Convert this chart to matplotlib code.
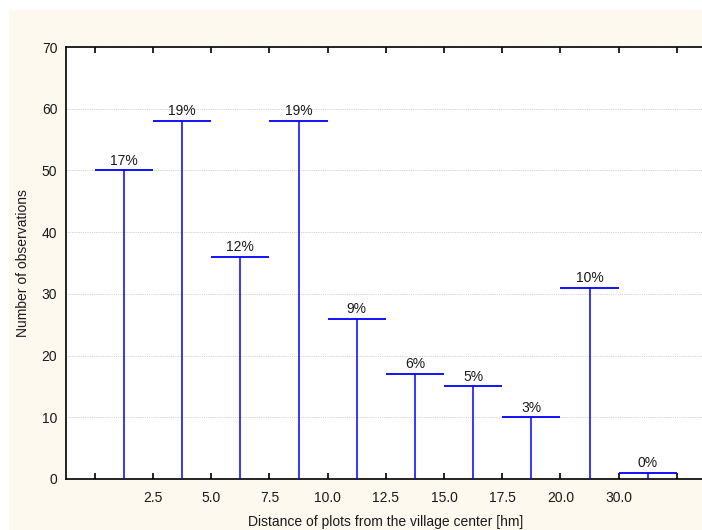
import matplotlib
matplotlib.use("Agg")
import matplotlib.pyplot as plt
from matplotlib.patches import Rectangle

plt.rcParams['font.family'] = ['Liberation Sans', 'DejaVu Sans']

categories = list(range(10))
counts = [50, 58, 36, 58, 26, 17, 15, 10, 31, 1]
tick_labels = ["", "2.5", "5.0", "7.5", "10.0", "12.5", "15.0", "17.5", "20.0", "30.0", ""]
total = sum(counts)
pct_labels = [f"{round(100 * c / total):d}%" for c in counts]

W, H = 702, 530
fig = plt.figure(figsize=(W / 100, H / 100), dpi=100, facecolor="white")
bg = Rectangle((9 / W, 0), 1, (H - 10) / H, transform=fig.transFigure,
               facecolor="#fdf9ef", edgecolor="none", zorder=-10)
fig.add_artist(bg)

ax = fig.add_axes([65.7 / W, 51 / H, 640.3 / W, 432 / H])
ax.set_zorder(1)
ax.set_facecolor("white")
ax.set_xlim(-1.0, 10.0)
ax.set_ylim(0, 70)

blue = "#0000ff"
for x, c, p in zip(categories, counts, pct_labels):
    ax.vlines(x, 0, c, color=blue, lw=1.1, zorder=3)
    ax.hlines(c, x - 0.5, x + 0.5, color=blue, lw=1.3, zorder=3)
    ax.annotate(p, (x, c), xytext=(0, 2), textcoords="offset points",
                ha="center", va="bottom", fontsize=10, color="#1a1a1a")

ax.set_yticks(range(0, 71, 10))
ax.yaxis.grid(True, linestyle=(0, (1, 1.2)), color="#c4c4c4", lw=0.6)
ax.set_axisbelow(True)
ax.tick_params(axis="y", length=0, labelsize=10, pad=6, labelcolor="#1a1a1a")

xt = [i - 0.5 for i in range(11)]
ax.set_xticks(xt)
ax.set_xticklabels(tick_labels)
ax.tick_params(axis="x", direction="in", length=4, top=True, labelsize=10,
               pad=9, labelcolor="#1a1a1a", width=1.2)

for s in ["left", "bottom", "top"]:
    ax.spines[s].set_color("black")
    ax.spines[s].set_linewidth(1.2)
ax.spines["right"].set_visible(False)

fig.text(23 / W, (H - 263) / H, "Number of observations", rotation=90,
         ha="center", va="center", fontsize=10, color="#1a1a1a")
fig.text(385.7 / W, 8 / H, "Distance of plots from the village center [hm]",
         ha="center", va="center", fontsize=10, color="#1a1a1a")

fig.savefig("out.png", dpi=100, facecolor=fig.get_facecolor())
